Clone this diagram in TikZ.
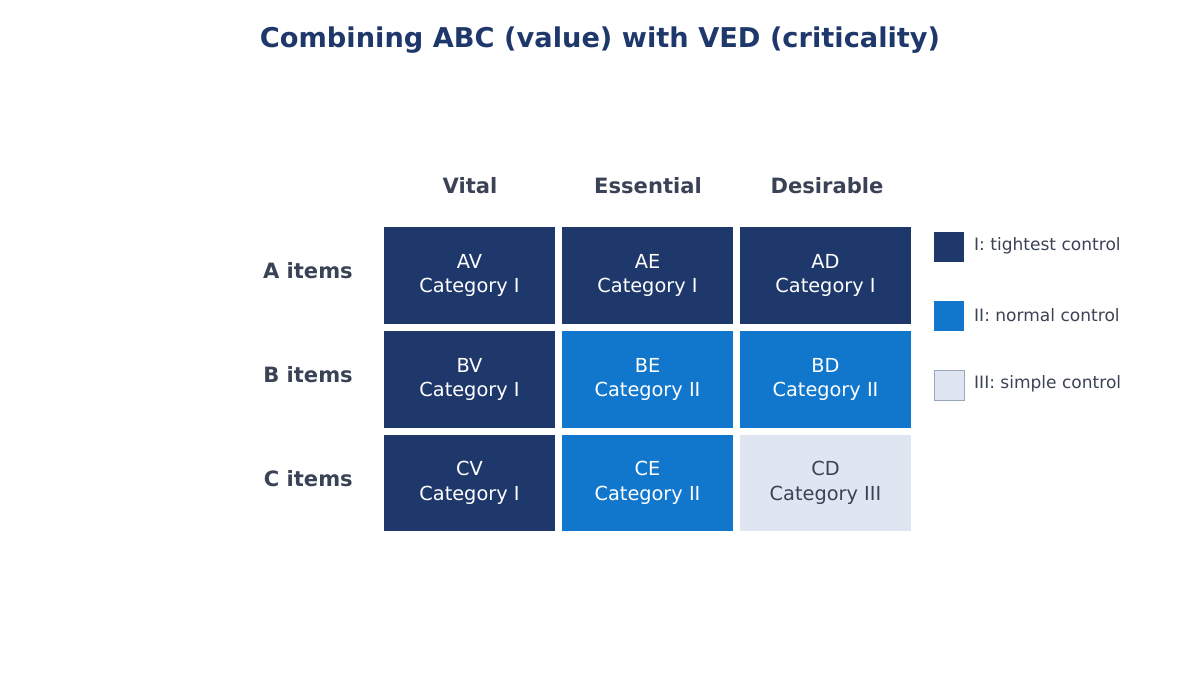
\documentclass[tikz,border=0pt]{standalone}
\usepackage{fontspec}
\setmainfont{DejaVu Sans}
\definecolor{dk}{HTML}{1F386B}
\definecolor{md}{HTML}{1177CC}
\definecolor{lt}{HTML}{E0E6F1}
\definecolor{tx}{HTML}{3A4256}
\definecolor{ti}{HTML}{1F386B}
\definecolor{bd}{HTML}{9AA6BC}
\begin{document}
\begin{tikzpicture}[x=0.02cm,y=-0.02cm,
 cell/.style={minimum width=3.42cm,minimum height=1.94cm,inner sep=0,align=center,font=\fontsize{11}{14}\selectfont},
 c1/.style={cell,fill=dk,text=white},
 c2/.style={cell,fill=md,text=white},
 c3/.style={cell,fill=lt,text=tx},
 hd/.style={font=\fontsize{12}{14}\selectfont\bfseries,text=tx},
 sw/.style={minimum size=0.6cm,inner sep=0},
 lg/.style={anchor=west,font=\fontsize{9.7}{12}\selectfont,text=tx}]
\useasboundingbox (0,0) rectangle (1200,675);
\node[font=\fontsize{15.5}{18}\selectfont\bfseries,text=ti] (t) at (600,40) {Combining ABC (value) with VED (criticality)};
\node[hd] (h1) at (470,186) {Vital};
\node[hd] (h2) at (648,186) {Essential};
\node[hd] (h3) at (827,186) {Desirable};
\node[hd,anchor=east] (r1) at (359,271) {A items};
\node[hd,anchor=east] (r2) at (359,375) {B items};
\node[hd,anchor=east] (r3) at (359,479) {C items};
\node[c1] (av) at (469.5,275.5) {AV\\Category I};
\node[c1] (ae) at (647.5,275.5) {AE\\Category I};
\node[c1] (ad) at (825.5,275.5) {AD\\Category I};
\node[c1] (bv) at (469.5,379.5) {BV\\Category I};
\node[c2] (be) at (647.5,379.5) {BE\\Category II};
\node[c2] (bd) at (825.5,379.5) {BD\\Category II};
\node[c1] (cv) at (469.5,483) {CV\\Category I};
\node[c2] (ce) at (647.5,483) {CE\\Category II};
\node[c3] (cd) at (825.5,483) {CD\\Category III};
\node[sw,fill=dk] (s1) at (949,247) {};
\node[sw,fill=md] (s2) at (949,316) {};
\node[sw,fill=lt,draw=bd] (s3) at (949,385) {};
\node[lg] (l1) at (968,246) {I: tightest control};
\node[lg] (l2) at (968,315) {II: normal control};
\node[lg] (l3) at (968,384) {III: simple control};
\end{tikzpicture}
\end{document}
